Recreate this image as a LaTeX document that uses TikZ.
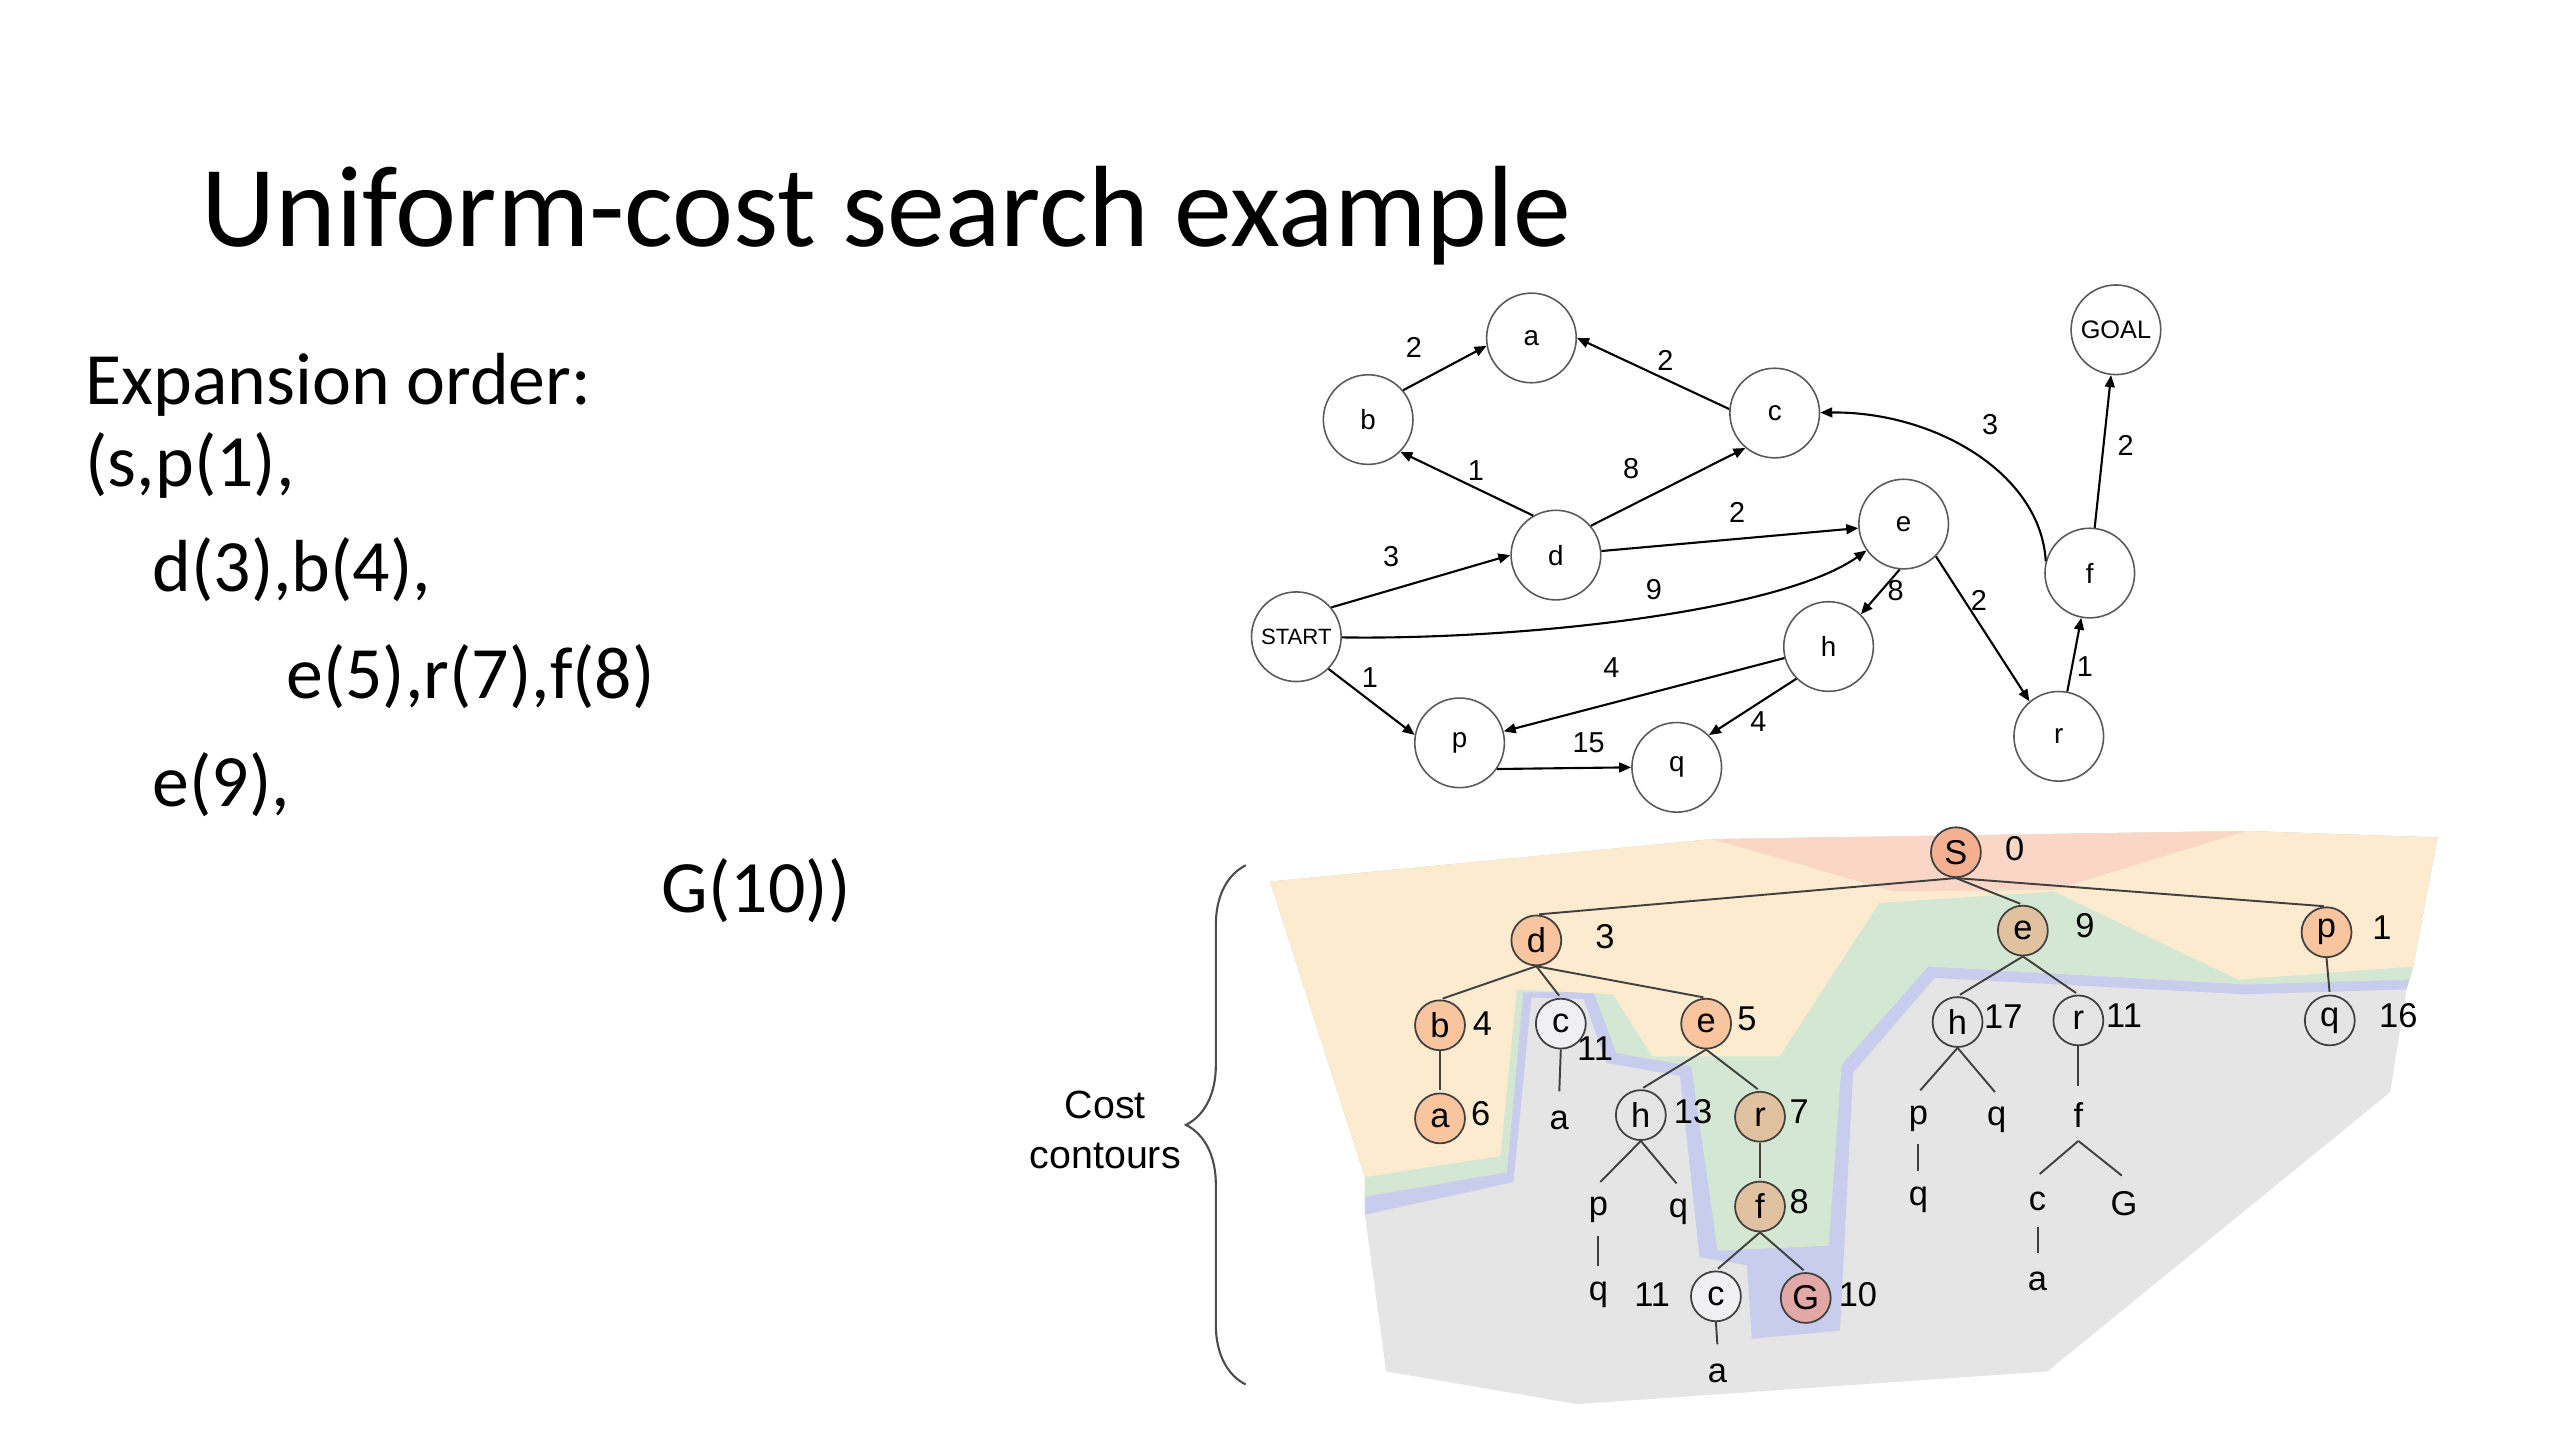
\documentclass[tikz,border=0pt]{standalone}
\usepackage{fontspec}
\setmainfont{Carlito}
\newfontfamily\arialfont{Liberation Sans}
\usetikzlibrary{positioning,calc,arrows.meta,decorations.pathreplacing}

\definecolor{peach}{RGB}{253,235,207}
\definecolor{mint}{RGB}{212,231,211}
\definecolor{lavender}{RGB}{200,205,237}
\definecolor{lightgrey}{RGB}{229,229,229}
\definecolor{blush}{RGB}{249,214,198}
\definecolor{nodeorange}{RGB}{249,197,158}
\definecolor{nodesalmon}{RGB}{245,176,146}
\definecolor{nodetan}{RGB}{224,194,160}
\definecolor{nodepink}{RGB}{226,168,166}
\definecolor{nodewhite}{RGB}{240,240,242}

\tikzset{
  gnode/.style={circle, draw=black!65, line width=0.45pt, minimum size=25.5pt, inner sep=0pt, font=\arialfont\fontsize{7.9}{8}\selectfont},
  gedge/.style={line width=0.6pt, -{Triangle[length=3.4pt,width=2.8pt]}},
  wlabel/.style={inner sep=0pt, font=\arialfont\fontsize{8.2}{9}\selectfont},
  tnode/.style={circle, draw=black!75, line width=0.5pt, minimum size=14.2pt, inner sep=0pt, font=\arialfont\fontsize{9.8}{10}\selectfont},
  tleaf/.style={tnode, draw=none},
  tcost/.style={inner sep=0pt, font=\arialfont\fontsize{9.8}{10}\selectfont},
  tedge/.style={draw=black!75, line width=0.55pt, shorten >=0.8pt},
  bigtext/.style={anchor=base west, inner sep=0pt, font=\fontsize{21}{25}\selectfont}
}

\begin{document}
\begin{tikzpicture}[x=0.16327mm, y=-0.16327mm]
    \useasboundingbox (0,0) rectangle (1568,882);

    % Title and expansion order
    \node[anchor=base west, inner sep=0pt, font=\fontsize{32.9}{39}\selectfont] (title) at (123,151) {Uniform-cost search example};
    \node[bigtext] (order) at (52,248) {Expansion order:};
    \node[bigtext] (step1) at (52,298) {(s,p(1),};
    \node[bigtext] (step2) at (93,362) {d(3),b(4),};
    \node[bigtext] (step3) at (175,428) {e(5),r(7),f(8)};
    \node[bigtext] (step4) at (93,494) {e(9),};
    \node[bigtext] (step5) at (405,559) {G(10))};

    % State space graph
    \node[gnode] (a) at (938,207) {a};
    \node[gnode] (b) at (838,257) {b};
    \node[gnode] (c) at (1087,253) {c};
    \node[gnode, font=\arialfont\fontsize{7.2}{8}\selectfont] (goal) at (1296,202) {GOAL};
    \node[gnode] (d) at (953,340) {d};
    \node[gnode] (e) at (1166,321) {e};
    \node[gnode] (f) at (1280,351) {f};
    \node[gnode, font=\arialfont\fontsize{6.3}{7}\selectfont] (start) at (794,390) {START};
    \node[gnode] (h) at (1120,396) {h};
    \node[gnode] (p) at (894,455) {p};
    \node[gnode] (q) at (1027,470) {q};
    \node[gnode] (r) at (1261,451) {r};

    \foreach \u/\v in {b.40/a.190, c.175/a.east, d.120/b.-45, d.40/c.-130, start.40/d.west, d/e, f/goal,
                       e.-95/h.45, e.-45/r.130, r/f, start.-45/p.170, h/p, h.-135/q.45, p.-35/q.west}
        \draw[gedge] (\u) -- (\v);
    \draw[gedge] (start) .. controls (930,392) and (1090,375) .. (e);
    \draw[gedge] (f.165) .. controls (1250,290) and (1185,252) .. (c);

    \foreach \n/\x/\y/\w in {ba/866/213/2, ca/1020/221/2, db/904/288/1, dc/999/287/8, fc/1219/260/3, fg/1302/273/2,
                             de/1064/314/2, sd/852/341/3, se/1013/361/9, eh/1161/362/8, er/1212/368/2, rf/1277/408/1,
                             sp/839/415/1, hp/987/409/4, hq/1077/442/4, pq/973/455/15}
        \node[wlabel] (w\n) at (\x,\y) {\w};

    % Cost contours
    \fill[lightgrey] (778,540) -- (1049,514) -- (1376,509) -- (1493,513) -- (1478,592) -- (1474,606) -- (1464,669)
        -- (1254,840) -- (966,860) -- (849,840) -- (836,744) -- (836,721) -- cycle;
    \fill[lavender] (778,540) -- (1049,514) -- (1376,509) -- (1493,513) -- (1478,592) -- (1474,606)
        -- (1375,609) -- (1185,599) -- (1135,657) -- (1127,815) -- (1073,820) -- (1070,775) -- (1041,770)
        -- (1029,659) -- (984,651) -- (970,612) -- (938,611) -- (927,724) -- (836,744) -- (836,721) -- cycle;
    \fill[mint] (778,540) -- (1049,514) -- (1376,509) -- (1493,513) -- (1478,592) -- (1476,600)
        -- (1375,603) -- (1181,592) -- (1128,652) -- (1120,763) -- (1052,766) -- (1036,653)
        -- (990,645) -- (976,607) -- (933,608) -- (923,718) -- (836,733) -- (836,721) -- cycle;
    \fill[peach] (778,540) -- (1049,514) -- (1376,509) -- (1493,513) -- (1478,592)
        -- (1371,600) -- (1258,546) -- (1151,553) -- (1090,647) -- (1012,647) -- (988,609)
        -- (929,606) -- (919,708) -- (836,721) -- cycle;
    \fill[blush] (1049,514) -- (1376,509) -- (1258,545) -- (1160,546) -- cycle;

    % Search tree
    \node[tnode, fill=nodesalmon] (tS) at (1198,522) {S};
    \node[tnode, fill=nodeorange] (td) at (941,576) {d};
    \node[tnode, fill=nodetan] (te9) at (1239,570) {e};
    \node[tnode, fill=nodeorange] (tp) at (1425,571) {p};
    \node[tnode, fill=nodeorange] (tb) at (882,628) {b};
    \node[tnode, fill=nodewhite] (tc) at (956,627) {c};
    \node[tnode, fill=nodeorange] (te5) at (1045,627) {e};
    \node[tnode] (th17) at (1199,626) {h};
    \node[tnode] (tr11) at (1273,625) {r};
    \node[tnode] (tq16) at (1427,625) {q};
    \node[tnode, fill=nodeorange] (ta6) at (882,685) {a};
    \node[tleaf] (ta1) at (955,686) {a};
    \node[tnode] (th13) at (1005,683) {h};
    \node[tnode, fill=nodetan] (tr7) at (1078,684) {r};
    \node[tleaf] (tp1) at (1175,685) {p};
    \node[tleaf] (tq1) at (1223,686) {q};
    \node[tleaf] (tf1) at (1273,683) {f};
    \node[tleaf] (tp2) at (979,741) {p};
    \node[tleaf] (tq2) at (1028,742) {q};
    \node[tnode, fill=nodetan] (tf8) at (1078,739) {f};
    \node[tleaf] (tq3) at (1175,735) {q};
    \node[tleaf] (tc3) at (1248,736) {c};
    \node[tleaf] (tG2) at (1301,737) {G};
    \node[tleaf] (tq4) at (979,793) {q};
    \node[tnode, fill=nodewhite] (tc2) at (1051,794) {c};
    \node[tnode, fill=nodepink] (tG) at (1106,795) {G};
    \node[tleaf] (ta2) at (1248,785) {a};
    \node[tleaf] (ta3) at (1052,841) {a};

    \foreach \u/\v in {tS/td, tS/te9, tS/tp, td/tb, td/tc, td/te5, te9/th17, te9/tr11, tp/tq16, tb/ta6, tc/ta1,
                       te5/th13, te5/tr7, th17/tp1, th17/tq1, tr11/tf1, th13/tp2, th13/tq2, tr7/tf8, tp1/tq3,
                       tf1/tc3, tf1/tG2, tp2/tq4, tf8/tc2, tf8/tG, tc3/ta2, tc2/ta3}
        \draw[tedge] (\u.south) -- (\v.north);

    \foreach \n/\x/\y/\k in {S/1234/520/0, d/983/574/3, e9/1277/567/9, p/1459/568/1, b/908/627/4, c/977/642/11,
                             e5/1070/624/5, h17/1227/623/17, r11/1301/622/11, q16/1469/622/16, a6/907/682/6,
                             h13/1037/681/13, r7/1102/681/7, f8/1102/736/8, c2/1012/793/11, G/1138/793/10}
        \node[tcost] (k\n) at (\x,\y) {\k};

    % Brace and its label
    \coordinate (braceTop) at (763,530);
    \coordinate (braceBot) at (763,848);
    \draw[black!70, line width=0.6pt, decorate, decoration={brace, amplitude=17pt}] (braceBot) -- (braceTop);
    \node[align=center, inner sep=0pt, font=\arialfont\fontsize{11.2}{14.1}\selectfont] (contours) at (677,692) {Cost\\contours};
\end{tikzpicture}
\end{document}
